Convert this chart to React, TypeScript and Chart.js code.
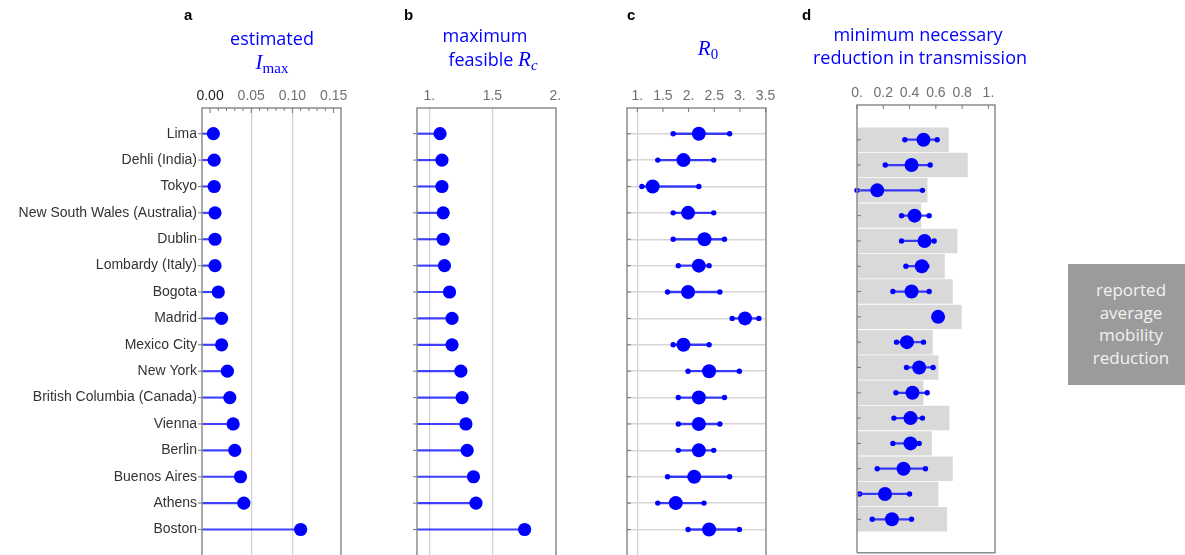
import React, { useEffect, useRef } from 'react';
import { Chart, registerables } from 'chart.js';
Chart.register(...registerables);

// ---------- data ----------
const cities = [
  'Lima', 'Dehli (India)', 'Tokyo', 'New South Wales (Australia)', 'Dublin', 'Lombardy (Italy)',
  'Bogota', 'Madrid', 'Mexico City', 'New York', 'British Columbia (Canada)', 'Vienna', 'Berlin',
  'Buenos Aires', 'Athens', 'Boston',
];
const imax = [0.004, 0.005, 0.005, 0.006, 0.006, 0.006, 0.010, 0.014, 0.014, 0.021, 0.024, 0.028, 0.030, 0.037, 0.041, 0.110];
const rcMax = [1.085, 1.10, 1.10, 1.11, 1.11, 1.12, 1.16, 1.18, 1.18, 1.25, 1.26, 1.29, 1.30, 1.35, 1.37, 1.756];
const r0Mid = [2.20, 1.90, 1.30, 1.99, 2.31, 2.20, 1.99, 3.10, 1.90, 2.40, 2.20, 2.20, 2.20, 2.11, 1.75, 2.40];
const r0Low = [1.70, 1.40, 1.09, 1.70, 1.70, 1.80, 1.59, 2.85, 1.70, 1.99, 1.80, 1.80, 1.80, 1.59, 1.40, 1.99];
const r0High = [2.80, 2.49, 2.20, 2.49, 2.70, 2.40, 2.61, 3.37, 2.40, 2.99, 2.70, 2.61, 2.49, 2.80, 2.30, 2.99];
const redMid = [0.506, 0.415, 0.154, 0.438, 0.514, 0.493, 0.415, 0.617, 0.380, 0.473, 0.422, 0.407, 0.407, 0.354, 0.213, 0.266];
const redLow = [0.364, 0.215, 0.000, 0.339, 0.339, 0.372, 0.273, 0.617, 0.301, 0.377, 0.296, 0.281, 0.273, 0.154, 0.020, 0.116];
const redHigh = [0.610, 0.557, 0.498, 0.549, 0.587, 0.531, 0.549, 0.617, 0.506, 0.579, 0.534, 0.498, 0.473, 0.521, 0.400, 0.415];
const mobility = [0.696, 0.840, 0.534, 0.486, 0.762, 0.665, 0.726, 0.794, 0.574, 0.617, 0.503, 0.701, 0.567, 0.726, 0.617, 0.683];

const ticksA = [0, 0.05, 0.1, 0.15];
const labelsA = ['0.00', '0.05', '0.10', '0.15'];
const minorA = [0.01, 0.02, 0.03, 0.04, 0.06, 0.07, 0.08, 0.09, 0.11, 0.12, 0.13, 0.14, 0.16];
const gridA = [0.05, 0.1];
const ticksB = [1, 1.5, 2];
const labelsB = ['1.', '1.5', '2.'];
const gridB = [1, 1.5];
const ticksC = [1, 1.5, 2, 2.5, 3, 3.5];
const labelsC = ['1.', '1.5', '2.', '2.5', '3.', '3.5'];
const gridC = [1];
const ticksD = [0, 0.2, 0.4, 0.6, 0.8, 1];
const labelsD = ['0.', '0.2', '0.4', '0.6', '0.8', '1.'];
const gridD: number[] = [];

// ---------- styling ----------
const SANS = "'Liberation Sans', Arial, sans-serif";
const TITLE = "'Open Sans', 'Noto Sans', sans-serif";
const SERIF = "'Liberation Serif', 'DejaVu Serif', serif";
const BLUE = '#0000ff';
const STEM = 'rgba(0,0,255,0.75)';
const rowIdx = cities.map((_, i) => i);

const framePlugin = {
  id: 'frame',
  afterDraw(chart: any, _a: any, o: any) {
    const { ctx, chartArea: a, scales } = chart;
    const xs = scales.x;
    const ys = scales.y;
    ctx.save();
    ctx.strokeStyle = '#8c8c8c';
    ctx.lineWidth = 1.5;
    ctx.beginPath();
    ctx.moveTo(a.left, a.bottom);
    ctx.lineTo(a.left, a.top);
    ctx.lineTo(a.right, a.top);
    ctx.lineTo(a.right, a.bottom);
    if (o.bottom) ctx.lineTo(a.left, a.bottom);
    ctx.stroke();
    ctx.lineWidth = 1;
    ctx.strokeStyle = '#777';
    ctx.beginPath();
    (o.major || []).forEach((v: number) => {
      const x = xs.getPixelForValue(v);
      ctx.moveTo(x, a.top);
      ctx.lineTo(x, a.top + o.majorLen);
    });
    (o.minor || []).forEach((v: number) => {
      const x = xs.getPixelForValue(v);
      if (x > a.right) return;
      ctx.moveTo(x, a.top);
      ctx.lineTo(x, a.top + o.minorLen);
    });
    rowIdx.forEach((r) => {
      const y = ys.getPixelForValue(r);
      if (o.left === 'out') {
        ctx.moveTo(a.left - 4, y);
        ctx.lineTo(a.left, y);
      } else if (o.left === 'in') {
        ctx.moveTo(a.left, y);
        ctx.lineTo(a.left + 4, y);
      }
    });
    ctx.stroke();
    ctx.restore();
  },
};

function xAxis(min: number, max: number, top: number, tv: number[], tl: string[], gv: number[], firstDark = false) {
  return {
    type: 'linear',
    position: 'top',
    offset: false,
    min,
    max,
    afterBuildTicks: (s: any) => {
      s.ticks = tv.map((v) => ({ value: v }));
    },
    afterFit: (s: any) => {
      s.height = top;
    },
    ticks: {
      autoSkip: false,
      maxRotation: 0,
      padding: 3,
      font: { family: SANS, size: 14 },
      color: (c: any) => (firstDark && c.index === 0 ? '#1e1e1e' : '#707070'),
      callback: (_v: any, i: number) => tl[i],
    },
    grid: {
      offset: false,
      drawTicks: false,
      lineWidth: 1.3,
      color: (c: any) => (c.tick && gv.includes(c.tick.value) ? '#d2d2d2' : 'rgba(0,0,0,0)'),
    },
    border: { display: false },
  };
}

function yAxis(min: number, max: number, width: number, labels: boolean, rowGrid: boolean) {
  return {
    type: 'linear',
    reverse: true,
    offset: false,
    min,
    max,
    afterBuildTicks: (s: any) => {
      s.ticks = rowIdx.map((v) => ({ value: v }));
    },
    afterFit: (s: any) => {
      s.width = width;
      s.paddingTop = 0;
      s.paddingBottom = 0;
    },
    ticks: {
      display: labels,
      autoSkip: false,
      padding: 5,
      font: { family: SANS, size: 14 },
      color: '#333',
      callback: (_v: any, i: number) => cities[i],
    },
    grid: { offset: false, display: rowGrid, drawTicks: false, color: '#d6d6d6', lineWidth: 1.5 },
    border: { display: false },
  };
}

function baseOptions(x: any, y: any, right: number, bottom: number, frame: any) {
  return {
    responsive: false,
    animation: false,
    events: [],
    indexAxis: 'y',
    layout: { autoPadding: false, padding: { left: 0, right, top: 0, bottom } },
    plugins: { legend: { display: false }, tooltip: { enabled: false }, frame },
    scales: { x, y },
  };
}

const Y_ABC: [number, number] = [-0.974, 15.966];
const Y_D: [number, number] = [-1.372, 16.32];

function configA() {
  const xmin = -0.0098;
  return {
    type: 'bar',
    data: {
      datasets: [
        { type: 'scatter', order: 0, data: rowIdx.map((i) => ({ x: imax[i], y: i })), pointRadius: 6.6, backgroundColor: BLUE, borderWidth: 0 },
        { type: 'bar', order: 1, grouped: false, barThickness: 1.5, backgroundColor: STEM, borderWidth: 0, data: rowIdx.map((i) => ({ y: i, x: [xmin, imax[i]] })) },
      ],
    },
    options: baseOptions(
      xAxis(xmin, 0.159, 108, ticksA, labelsA, gridA, true),
      yAxis(Y_ABC[0], Y_ABC[1], 202, true, false),
      39, 0,
      { bottom: false, major: ticksA, majorLen: 5, minor: minorA, minorLen: 3, left: 'out' },
    ),
    plugins: [framePlugin],
  };
}

function configB() {
  const xmin = 0.902;
  return {
    type: 'bar',
    data: {
      datasets: [
        { type: 'scatter', order: 0, data: rowIdx.map((i) => ({ x: rcMax[i], y: i })), pointRadius: 6.6, backgroundColor: BLUE, borderWidth: 0 },
        { type: 'bar', order: 1, grouped: false, barThickness: 1.5, backgroundColor: STEM, borderWidth: 0, data: rowIdx.map((i) => ({ y: i, x: [xmin, rcMax[i]] })) },
      ],
    },
    options: baseOptions(
      xAxis(xmin, 2.005, 108, ticksB, labelsB, gridB),
      yAxis(Y_ABC[0], Y_ABC[1], 72, false, false),
      44, 0,
      { bottom: false, major: [], majorLen: 0, minor: [], minorLen: 0, left: 'out' },
    ),
    plugins: [framePlugin],
  };
}

function configC() {
  return {
    type: 'bar',
    data: {
      datasets: [
        { type: 'scatter', order: 0, data: rowIdx.map((i) => ({ x: r0Mid[i], y: i })), pointRadius: 7, backgroundColor: BLUE, borderWidth: 0 },
        {
          type: 'scatter', order: 1,
          data: rowIdx.flatMap((i) => [{ x: r0Low[i], y: i }, { x: r0High[i], y: i }]),
          pointRadius: 2.7, backgroundColor: BLUE, borderWidth: 0,
        },
        { type: 'bar', order: 2, grouped: false, barThickness: 1.7, backgroundColor: STEM, borderWidth: 0, data: rowIdx.map((i) => ({ y: i, x: [r0Low[i], r0High[i]] })) },
      ],
    },
    options: baseOptions(
      xAxis(0.8, 3.509, 108, ticksC, labelsC, gridC),
      yAxis(Y_ABC[0], Y_ABC[1], 27, false, true),
      34, 0,
      { bottom: false, major: ticksC, majorLen: 4, minor: [], minorLen: 0, left: 'in' },
    ),
    plugins: [framePlugin],
  };
}

function configD() {
  return {
    type: 'bar',
    data: {
      datasets: [
        { type: 'scatter', order: 0, clip: false, data: rowIdx.map((i) => ({ x: redMid[i], y: i })), pointRadius: 7, backgroundColor: BLUE, borderWidth: 0 },
        {
          type: 'scatter', order: 1, clip: false,
          data: rowIdx.flatMap((i) => [{ x: redLow[i], y: i }, { x: redHigh[i], y: i }]),
          pointRadius: 2.7, backgroundColor: BLUE, borderWidth: 0,
        },
        { type: 'bar', order: 2, grouped: false, barThickness: 1.6, backgroundColor: STEM, borderWidth: 0, data: rowIdx.map((i) => ({ y: i, x: [redLow[i], redHigh[i]] })) },
        { type: 'bar', order: 3, grouped: false, barThickness: 23.8, backgroundColor: '#d9d9d9', borderWidth: 0, data: rowIdx.map((i) => ({ y: i, x: [0, mobility[i]] })) },
      ],
    },
    options: baseOptions(
      xAxis(0, 1.05, 105, ticksD, labelsD, gridD),
      yAxis(Y_D[0], Y_D[1], 57, false, false),
      55, 2.3,
      { bottom: true, major: ticksD, majorLen: 4, minor: [], minorLen: 0, left: 'in' },
    ),
    plugins: [framePlugin],
  };
}

function ChartCanvas({ left, width, build }: { left: number; width: number; build: () => any }) {
  const ref = useRef<HTMLCanvasElement>(null);
  useEffect(() => {
    const chart = new Chart(ref.current as HTMLCanvasElement, build() as any);
    return () => chart.destroy();
  }, []);
  return (
    <canvas
      ref={ref}
      width={width}
      height={555}
      style={{ position: 'absolute', left, top: 0, width, height: 555 }}
    />
  );
}

const txt = (left: number, top: number, width: number, children: React.ReactNode, extra: React.CSSProperties = {}) => (
  <div
    style={{
      position: 'absolute', left, top, width, textAlign: 'center', lineHeight: 1, whiteSpace: 'nowrap',
      fontFamily: TITLE, fontSize: 18, color: BLUE, ...extra,
    }}
  >
    {children}
  </div>
);

const letter = (left: number, ch: string) => (
  <div style={{ position: 'absolute', left, top: 7, fontFamily: SANS, fontWeight: 'bold', fontSize: 15, color: '#000', lineHeight: 1 }}>{ch}</div>
);

const italic: React.CSSProperties = { fontFamily: SERIF, fontStyle: 'italic', fontSize: 21 };
const subUp: React.CSSProperties = { fontFamily: SERIF, fontStyle: 'normal', fontSize: 15, position: 'relative', top: 4 };
const subIt: React.CSSProperties = { fontFamily: SERIF, fontStyle: 'italic', fontSize: 15, position: 'relative', top: 4 };

export default function App() {
  return (
    <div style={{ position: 'absolute', left: 0, top: 0, width: 1185, height: 555, overflow: 'hidden', background: '#fff' }}>
      <ChartCanvas left={0} width={380} build={configA} />
      <ChartCanvas left={345} width={255} build={configB} />
      <ChartCanvas left={600} width={200} build={configC} />
      <ChartCanvas left={800} width={250} build={configD} />

      {letter(184, 'a')}
      {letter(404, 'b')}
      {letter(627, 'c')}
      {letter(802, 'd')}

      {txt(172, 29, 200, 'estimated')}
      {txt(172, 52, 200, <span><span style={italic}>I</span><span style={subUp}>max</span></span>)}
      {txt(385, 26, 200, 'maximum')}
      {txt(393, 49, 200, <span>feasible <span style={italic}>R</span><span style={subIt}>c</span></span>)}
      {txt(608, 38, 200, <span><span style={italic}>R</span><span style={subUp}>0</span></span>)}
      {txt(768, 25, 300, 'minimum necessary')}
      {txt(770, 48, 300, 'reduction in transmission')}

      <div
        style={{
          position: 'absolute', left: 1068, top: 264, width: 118, height: 121, background: '#9b9b9b',
          color: '#f2f2f2', fontFamily: TITLE, fontSize: 17, lineHeight: '22.5px', textAlign: 'center',
          boxSizing: 'border-box', paddingTop: 15, paddingLeft: 8,
        }}
      >
        reported<br />average<br />mobility<br />reduction
      </div>
    </div>
  );
}
